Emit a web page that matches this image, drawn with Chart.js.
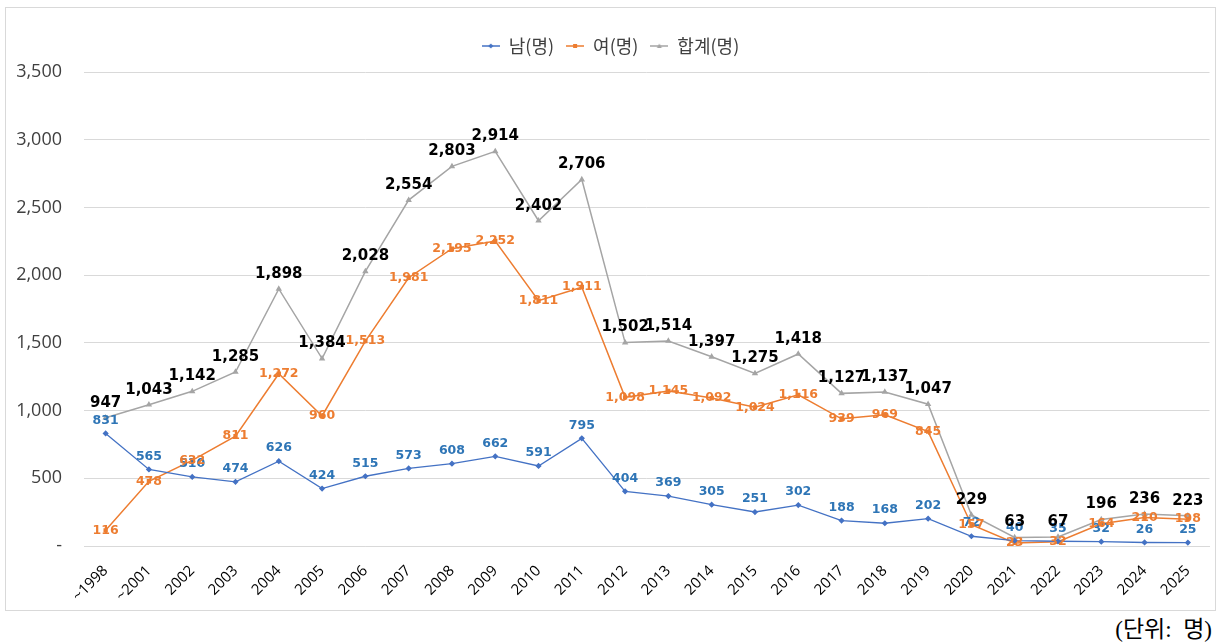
<!DOCTYPE html>
<html>
<head>
<meta charset="utf-8">
<script src="https://cdn.jsdelivr.net/npm/chart.js@4"></script>
<style>
  body { margin: 0; background: #fff; }
  #frame { position: absolute; left: 5px; top: 7px; width: 1209px; height: 602px; border: 1px solid #d9d9d9; }
  #unit { position: absolute; right: 7px; top: 610px; font: 23px "Liberation Serif", "Noto Sans CJK KR", serif; color: #000; }
</style>
</head>
<body>
<div id="frame"><canvas id="chart"></canvas></div>
<div id="unit">(단위:&nbsp; 명)</div>
<script>
// values
const years = ["~1998", "~2001", "2002", "2003", "2004", "2005", "2006", "2007", "2008", "2009", "2010", "2011", "2012",
  "2013", "2014", "2015", "2016", "2017", "2018", "2019", "2020", "2021", "2022", "2023", "2024", "2025"];
const male = [831, 565, 510, 474, 626, 424, 515, 573, 608, 662, 591, 795, 404, 369, 305, 251, 302, 188, 168, 202, 72, 40, 35, 32, 26, 25];
const female = [116, 478, 632, 811, 1272, 960, 1513, 1981, 2195, 2252, 1811, 1911, 1098, 1145, 1092, 1024, 1116, 939, 969, 845, 157, 23, 32, 164, 210, 198];
const total = [947, 1043, 1142, 1285, 1898, 1384, 2028, 2554, 2803, 2914, 2402, 2706, 1502, 1514, 1397, 1275, 1418, 1127, 1137, 1047, 229, 63, 67, 196, 236, 223];
const yTicks = [0, 500, 1000, 1500, 2000, 2500, 3000, 3500];

const fmt = (v) => v.toLocaleString("en-US");

// little "line with marker" swatch for the legend
function swatch(color, shape) {
  const c = document.createElement("canvas");
  c.width = 18; c.height = 8;
  const g = c.getContext("2d");
  g.strokeStyle = color; g.fillStyle = color; g.lineWidth = 1.5;
  g.beginPath(); g.moveTo(0, 4); g.lineTo(18, 4); g.stroke();
  g.beginPath();
  if (shape === "rect") g.rect(7, 2, 4, 4);
  else if (shape === "triangle") { g.moveTo(9, 1.5); g.lineTo(11.5, 6); g.lineTo(6.5, 6); g.closePath(); }
  else { g.moveTo(9, 1.5); g.lineTo(11.5, 4); g.lineTo(9, 6.5); g.lineTo(6.5, 4); g.closePath(); }
  g.fill();
  return c;
}

// draws the value labels, Excel style
const valueLabels = {
  id: "valueLabels",
  afterDatasetsDraw(chart) {
    const ctx = chart.ctx;
    ctx.save();
    ctx.textAlign = "center";
    ctx.textBaseline = "middle";
    chart.data.datasets.forEach((ds, i) => {
      const meta = chart.getDatasetMeta(i);
      const lab = ds.label_opts;
      ctx.font = "bold " + lab.size + "px 'DejaVu Sans'";
      ctx.fillStyle = lab.color;
      meta.data.forEach((pt, j) => {
        ctx.fillText(fmt(ds.data[j]), pt.x, pt.y - lab.offset);
      });
    });
    ctx.restore();
  }
};

const legendPad = {
  id: "legendPad",
  beforeInit(chart) {
    const fit = chart.legend.fit;
    chart.legend.fit = function () { fit.call(this); this.height += 7; };
  }
};

const ctx = document.getElementById("chart").getContext("2d");
new Chart(ctx, {
  type: "line",
  data: {
    labels: years,
    datasets: [
      {
        label: "남(명)", data: male, borderColor: "#4472c4", backgroundColor: "#4472c4",
        borderWidth: 1.3, pointStyle: "rectRot", pointRadius: 2.2, tension: 0,
        label_opts: { size: 12.5, color: "#2e75b6", offset: 13 }, swatch: swatch("#4472c4", "diamond")
      },
      {
        label: "여(명)", data: female, borderColor: "#ed7d31", backgroundColor: "#ed7d31",
        borderWidth: 1.5, pointStyle: "rect", pointRadius: 2, tension: 0,
        label_opts: { size: 12.5, color: "#ed7d31", offset: 0 }, swatch: swatch("#ed7d31", "rect")
      },
      {
        label: "합계(명)", data: total, borderColor: "#a5a5a5", backgroundColor: "#a5a5a5",
        borderWidth: 1.5, pointStyle: "triangle", pointRadius: 2.2, tension: 0,
        label_opts: { size: 15, color: "#000000", offset: 15 }, swatch: swatch("#a5a5a5", "triangle")
      }
    ]
  },
  options: {
    responsive: true,
    maintainAspectRatio: false,
    animation: false,
    layout: { padding: { top: 17, right: 0, left: 0, bottom: 0 } },
    plugins: {
      tooltip: { enabled: false },
      legend: {
        position: "top",
        labels: {
          color: "#404040",
          font: { size: 18, family: "'Noto Sans CJK KR'" },
          padding: 12,
          usePointStyle: true,
          generateLabels(chart) {
            return chart.data.datasets.map((ds, i) => ({
              text: ds.label, pointStyle: ds.swatch, fontColor: "#404040",
              strokeStyle: ds.borderColor, fillStyle: ds.borderColor, datasetIndex: i, hidden: false
            }));
          }
        }
      }
    },
    scales: {
      x: {
        offset: true,
        grid: { display: false },
        border: { color: "#d9d9d9" },
        ticks: {
          color: "#000",
          padding: 8,
          font: { size: 15, family: "'Open Sans'" },
          minRotation: 45, maxRotation: 45, autoSkip: false
        },
        afterFit(scale) { scale.height = 64; }
      },
      y: {
        min: 0, max: 3500,
        afterBuildTicks(scale) { scale.ticks = yTicks.map((v) => ({ value: v })); },
        grid: { color: "#d9d9d9", drawTicks: false },
        border: { display: false },
        ticks: {
          color: "#404040",
          padding: 22,
          font: { size: 18, family: "'Open Sans'" },
          callback: (v) => (v === 0 ? "-" : fmt(v))
        },
        afterFit(scale) { scale.width = 78; }
      }
    }
  },
  plugins: [valueLabels, legendPad]
});
</script>
</body>
</html>
